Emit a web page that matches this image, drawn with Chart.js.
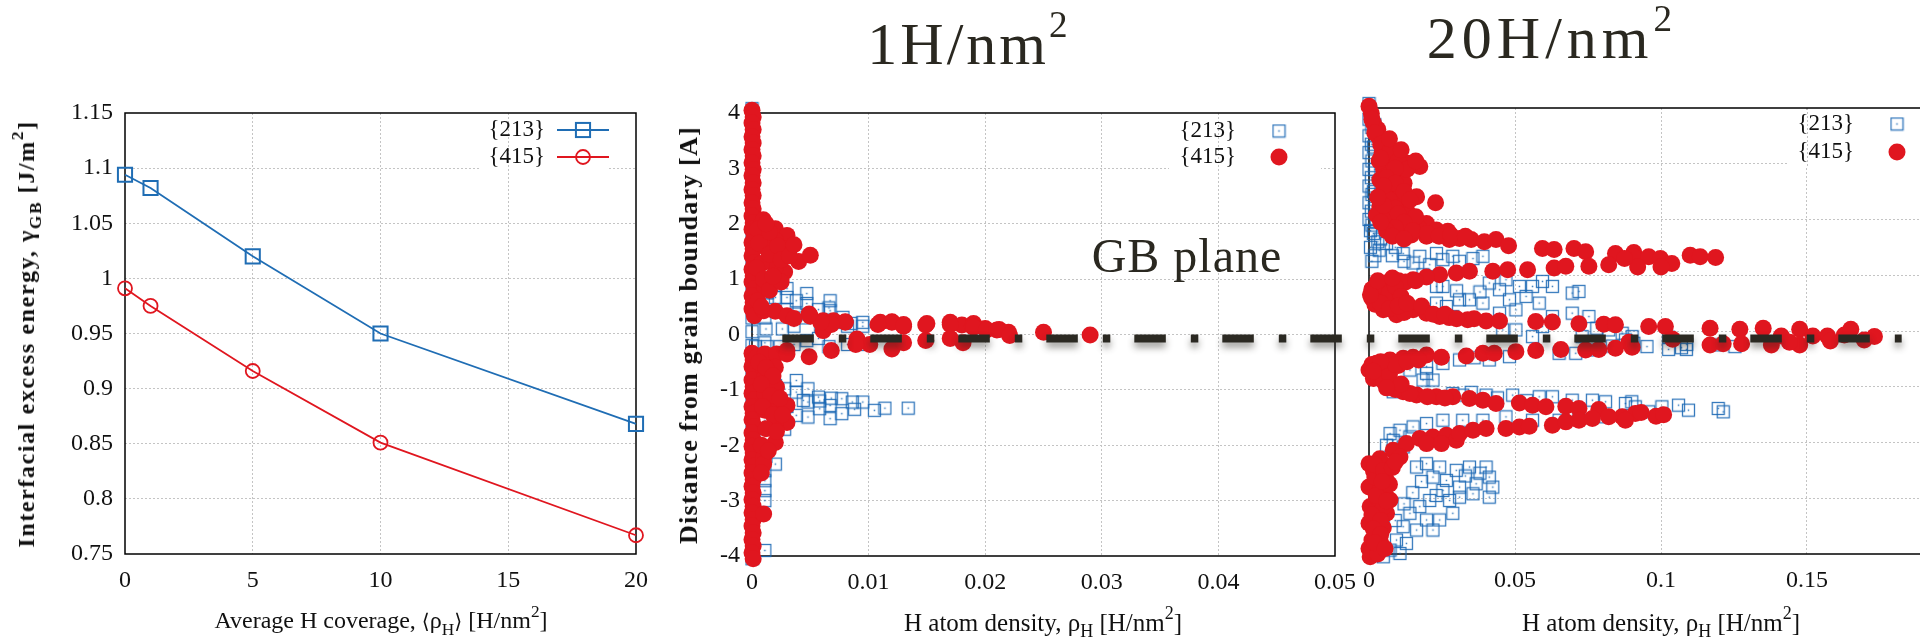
<!DOCTYPE html>
<html>
<head>
<meta charset="utf-8">
<script src="https://cdn.jsdelivr.net/npm/chart.js@4.4.1/dist/chart.umd.min.js"></script>
<style>
  html, body { margin: 0; padding: 0; background: #fff; width: 1920px; height: 640px; overflow: hidden; position: relative; }
  canvas { position: absolute; top: 0; }
  #energy { left: 0; z-index: 1; }
  #high { left: 1340px; z-index: 1; }
  #low { left: 660px; z-index: 2; }
  .txt { position: absolute; z-index: 3; white-space: nowrap; line-height: 1; color: #111;
         font-family: "Liberation Serif", "Times New Roman", serif; transform: translate(-50%, -50%); }
  .txt sub { font-size: 0.72em; vertical-align: -0.38em; line-height: 0; }
  .txt sup { font-size: 0.72em; vertical-align: 0.62em; line-height: 0; }
  .ang { font-family: "DejaVu Serif", serif; font-size: 0.85em; }
  .rot { transform: translate(-50%, -50%) rotate(-90deg); font-weight: bold; }
  .big { color: #2a2820; font-size: 60px; letter-spacing: 3px; }
  .big sup { font-size: 0.62em; vertical-align: 0.72em; }
</style>
</head>
<body>
<canvas id="energy" width="660" height="640"></canvas>
<canvas id="high" width="640" height="640"></canvas>
<canvas id="low" width="1260" height="640"></canvas>

<div class="txt rot" style="left:26px; top:334px; font-size:24px; letter-spacing:1.6px;">Interfacial excess energy, γ<sub>GB</sub> [J/m<sup>2</sup>]</div>
<div class="txt" style="left:381px; top:620px; font-size:24px;">Average H coverage, <span class="ang">⟨</span>ρ<sub>H</sub><span class="ang">⟩</span> [H/nm<sup>2</sup>]</div>
<div class="txt rot" style="left:689px; top:335px; font-size:26px; letter-spacing:1.2px;">Distance from grain boundary [A]</div>
<div class="txt" style="left:1043px; top:622px; font-size:25px;">H atom density, ρ<sub>H</sub> [H/nm<sup>2</sup>]</div>
<div class="txt" style="left:1661px; top:622px; font-size:25px;">H atom density, ρ<sub>H</sub> [H/nm<sup>2</sup>]</div>
<div class="txt big" style="left:969px; top:44px;">1H/nm<sup>2</sup></div>
<div class="txt big" style="left:1552px; top:38px; letter-spacing:5px;">20H/nm<sup>2</sup></div>
<div class="txt" style="left:1187px; top:256px; font-size:48px; letter-spacing:1px; color:#2a2820;">GB plane</div>

<script>
// ---------- grain-boundary energy vs. average coverage ----------
const coverage  = [0, 1, 5, 10, 20];
const gamma213  = [1.094, 1.082, 1.020, 0.950, 0.868];
const gamma415  = [0.991, 0.975, 0.916, 0.851, 0.767];
const coverageTicks = [0, 5, 10, 15, 20];
const coverageLabels = ['0', '5', '10', '15', '20'];
const energyTicks = [0.75, 0.8, 0.85, 0.9, 0.95, 1, 1.05, 1.1, 1.15];
const energyLabels = ['0.75', '0.8', '0.85', '0.9', '0.95', '1', '1.05', '1.1', '1.15'];

// ---------- H density profiles, 1 H/nm^2 : [density, distance] ----------
const low415 = [
  // column at the boundary slab edge
  [0,4.05],[0.0001,3.93],[0,3.82],[0.0001,3.7],[0,3.57],[0.0001,3.46],[0,3.34],[0.0001,3.23],[0,3.1],[0.0001,2.98],
  [0,2.87],[0.0001,2.74],[0,2.62],[0.0001,2.51],[0,2.38],[0.0001,2.27],[0,2.14],[0.0001,2.02],[0,1.9],[0.0002,1.78],
  [0,1.66],[0.0001,1.55],[0,1.42],[0.0002,1.3],[0,1.18],[0.0001,1.06],[0,0.95],[0.0002,0.82],[0,0.7],[0.0001,0.58],
  [0,0.46],[0.0002,0.34],[0,-0.34],[0.0001,-0.46],[0,-0.58],[0.0002,-0.7],[0,-0.82],[0.0001,-0.94],[0,-1.06],[0.0002,-1.18],
  [0,-1.3],[0.0001,-1.42],[0,-1.54],[0.0002,-1.66],[0,-1.78],[0.0001,-1.9],[0,-2.02],[0.0001,-2.14],[0,-2.26],[0.0001,-2.38],
  [0,-2.5],[0.0001,-2.62],[0,-2.74],[0.0001,-2.86],[0,-2.98],[0.0001,-3.1],[0,-3.22],[0.0001,-3.34],[0,-3.46],[0.0001,-3.58],
  [0,-3.7],[0.0001,-3.82],[0,-3.94],[0.0001,-4.05],
  // upper lobe
  [0.00097,2.07],[0.002,1.91],[0.003,1.79],[0.003,1.55],[0.004,1.32],[0.005,1.43],[0.002,1.7],[0.0011,1.58],[0.0028,1.13],[0.002,1.22],
  [0.0008,1.28],[0.0011,0.86],[0.0005,0.61],[0.001,0.43],[0.002,0.42],[0.003,0.34],[0.005,0.33],[0.0061,0.25],[0.007,0.25],[0.008,0.23],
  [0.0061,0.07],[0.009,-0.08],[0.011,0.22],[0.012,0.23],[0.013,0.18],[0.015,0.2],[0.017,0.22],[0.018,0.17],[0.019,0.2],
  [0.0005,1.9],[0.0006,1.65],[0.0004,1.2],[0.001,1.0],[0.0015,0.8],[0.0008,0.5],[0.0015,1.45],[0.0022,1.6],[0.0025,1.35],[0.0015,1.85],
  [0.0032,1.42],[0.0025,0.95],[0.0036,1.62],[0.0012,2.0],[0.0018,1.05],
  // plane layer
  [0.0189,0.15],[0.02,0.11],[0.0212,0.09],[0.022,0.04],[0.025,0.04],[0.029,-0.01],[0.0181,-0.15],[0.0149,0.17],[0.0149,-0.11],[0.017,0.18],
  [0.017,-0.07],[0.012,0.22],[0.012,-0.26],[0.013,0.15],[0.013,-0.15],[0.0108,0.18],[0.0101,-0.18],[0.0089,-0.18],[0.008,0.22],[0.0068,0.18],
  [0.0068,-0.29],[0.0059,0.22],[0.0049,0.37],[0.0049,-0.4],[0.0036,0.29],[0.003,-0.29],[0.0018,-0.44],[0.0009,-0.44],[0.019,0.13],[0.0201,0.08],
  [0.021,0.08],[0.0221,-0.02],
  // lower lobe
  [0.0004,-0.41],[0.0011,-0.35],[0.0021,-0.35],[0.003,-0.35],[0.002,-0.59],[0.0011,-0.77],[0.0011,-1.07],[0.0021,-1.25],[0.003,-1.28],[0.003,-1.59],
  [0.002,-1.57],[0.002,-1.95],[0.001,-2.22],[0.001,-2.34],[0.001,-3.24],[0.0011,-1.37],[0.0021,-0.95],[0.0006,-0.5],[0.0012,-0.6],[0.0018,-0.75],
  [0.0008,-0.9],[0.0016,-1.1],[0.0024,-1.15],[0.0009,-1.3],[0.0018,-1.45],[0.0026,-1.45],[0.0012,-1.7],[0.0021,-1.75],[0.0008,-2.0],[0.0014,-2.1],
  [0.0008,-2.5]
];
const low213 = [
  [0,4.08],[0,3.92],[0,3.75],[0,3.58],[0,3.4],[0,3.2],[0,3.0],[0,2.8],[0,2.55],[0,2.3],[0,2.05],[0,1.8],[0,1.55],[0,1.3],[0,1.05],
  [0,0.8],[0,0.55],[0,0.3],[0,0.05],[0,-0.2],[0,-0.45],[0,-0.7],[0,-0.95],[0,-1.2],[0,-1.45],[0,-1.7],[0,-1.95],[0,-2.2],[0,-2.45],
  [0,-2.7],[0,-2.95],[0,-3.2],[0,-3.45],[0,-3.65],[0,-3.85],[0,-4.05],
  [0.002,0.89],[0.003,0.83],[0.002,0.67],[0.003,0.67],[0.0038,0.61],[0.0047,0.74],[0.0047,0.56],[0.0038,0.37],[0.0067,0.61],[0.0067,0.43],
  [0.0057,0.45],[0.0078,0.31],[0.0095,0.22],[0.0085,0.2],[0.003,0.45],[0.0023,0.98],[0.0066,0.48],[0.0095,0.15],[0.0095,-0.18],[0.0082,-0.18],
  [0.0066,-0.22],[0.0057,-0.07],[0.0047,-0.11],[0.0036,-0.18],[0.0024,-0.22],[0.0013,-0.22],[0.0003,-0.22],[0.0082,0.15],[0.0074,0.22],[0.0059,0.15],
  [0.0036,0.15],[0.0013,0.75],[0.0013,0.55],[0.0045,0.3],[0.0026,0.1],
  [0.002,-0.92],[0.0038,-0.83],[0.0038,-1.04],[0.0048,-0.98],[0.0048,-1.22],[0.0048,-1.49],[0.0057,-1.13],[0.0058,-1.34],[0.0067,-1.28],[0.0067,-1.52],
  [0.0077,-1.16],[0.0077,-1.43],[0.0086,-1.22],[0.0095,-1.22],[0.0105,-1.37],[0.0114,-1.33],[0.0134,-1.33],[0.0028,-0.98],[0.0028,-1.71],[0.0038,-1.46],
  [0.0044,-1.19],[0.0058,-1.2],[0.0068,-1.15],[0.0088,-1.35],[0.003,-1.3],
  [0.0011,0.3],[0.0012,0.1],[0.0011,-0.15],[0.0012,-0.4],[0.0011,-0.6],[0.0012,-0.85],[0.0011,-1.05],[0.0012,-1.3],[0.0011,-1.55],[0.0012,-1.8],
  [0.0011,-2.05],[0.002,-2.34],[0.0011,-2.46],[0.0011,-2.64],[0.0011,-2.82],[0.0011,-3.0],[0.0011,-3.9],[0.0012,-2.2]
];
const densityTicksLow = [0, 0.01, 0.02, 0.03, 0.04, 0.05];
const densityLabelsLow = ['0', '0.01', '0.02', '0.03', '0.04', '0.05'];

// ---------- H density profiles, 20 H/nm^2 ----------
const high415 = [
  [0,4.03],[0.0015,3.73],[0.0032,3.49],[0.0066,3.31],[0.0094,3.13],[0.0134,3.01],[0.0174,2.95],[0.0101,2.77],[0.0037,2.71],[0.0083,2.53],
  [0.0163,2.41],[0.0228,2.3],[0.0037,2.23],[0.0117,2.23],[0.0026,2.08],[0.0083,2.05],[0.014,1.99],[0.0197,1.93],[0.0117,1.88],[0.0231,1.81],
  [0.027,1.79],[0.031,1.66],[0.035,1.64],[0.0395,1.6],[0.0435,1.64],[0.0478,1.53],[0.0594,1.48],[0.0634,1.46],[0.0702,1.48],[0.0742,1.42],
  [0.0844,1.39],[0.0907,1.41],[0.0275,1.64],[0.0197,1.7],
  [0.0008,3.9],[0.003,3.62],[0.0055,3.42],[0.0045,3.2],[0.0075,3.0],[0.005,2.9],[0.012,2.65],[0.0065,2.6],[0.0105,2.4],[0.0055,2.45],
  [0.013,2.15],[0.0075,1.95],[0.017,1.85],[0.0105,1.75],[0.0145,1.72],[0.006,2.02],[0.0035,3.05],[0.008,2.8],
  [0.001,3.8],[0.002,3.55],[0.004,3.35],[0.007,3.2],[0.01,3.05],[0.013,2.9],[0.016,3.05],[0.009,2.92],[0.006,2.75],[0.009,2.65],
  [0.012,2.5],[0.007,2.35],[0.009,2.2],[0.005,2.25],[0.01,2.1],[0.014,2.35],[0.016,2.05],[0.012,1.95],[0.009,1.85],[0.006,1.8],
  [0.015,1.8],[0.02,1.75],[0.024,1.7],[0.028,1.72],[0.033,1.7],[0.004,3.1],[0.007,3.45],[0.011,3.25],[0.005,2.6],[0.003,2.4],
  [0.004,1.95],[0.008,1.7],[0.012,1.65],
  [0.0907,1.33],[0.0958,1.33],[0.0998,1.3],[0.1037,1.21],[0.11,1.36],[0.1134,1.33],[0.1187,1.32],[0.092,1.15],[0.1,1.15],[0.0875,1.3],
  [0.0242,1.01],[0.0299,1.04],[0.0344,1.07],[0.0424,1.07],[0.0475,1.1],[0.0543,1.1],[0.0634,1.13],[0.0674,1.16],[0.0753,1.16],[0.0821,1.19],
  [0.0197,0.97],[0.0151,0.92],[0.0101,0.9],[0.006,0.86],[0.0026,0.8],[0.0009,0.59],[0.0037,0.59],[0.0083,0.56],[0.0049,0.38],[0.0094,0.29],
  [0.0151,0.38],[0.0197,0.32],[0.0242,0.26],[0.0275,0.24],[0.0338,0.2],[0.0401,0.18],[0.0447,0.18],[0.0571,0.17],[0.0628,0.16],[0.0719,0.13],
  [0.0804,0.12],[0.0844,0.11],[0.0015,0.7],[0.004,0.72],[0.002,0.48],[0.006,0.45],[0.012,0.33],[0.0125,0.88],
  [0.001,0.75],[0.003,0.65],[0.005,0.8],[0.007,0.68],[0.009,0.8],[0.011,0.62],[0.004,0.5],[0.007,0.4],[0.01,0.45],[0.013,0.5],
  [0.016,0.9],[0.018,0.45],[0.0005,0.65],[0.003,0.9],[0.008,0.95],[0.022,0.3],[0.026,0.3],[0.03,0.22],[0.036,0.22],
  [0.0958,0.08],[0.1015,0.08],[0.1168,0.05],[0.1168,-0.25],[0.1213,-0.23],[0.127,0.03],[0.1276,-0.23],[0.135,0.05],[0.1378,-0.25],[0.1412,-0.09],
  [0.1475,0.03],[0.1475,-0.25],[0.152,-0.09],[0.157,-0.09],[0.1628,-0.07],[0.165,0.03],[0.1696,-0.16],[0.1731,-0.1],[0.089,-0.2],[0.104,-0.15],
  [0.158,-0.18],[0.144,-0.2],
  [0,-0.7],[0.0026,-0.58],[0.0072,-0.52],[0.0117,-0.49],[0.0151,-0.47],[0.0197,-0.43],[0.0248,-0.47],[0.0333,-0.45],[0.039,-0.4],[0.0429,-0.4],
  [0.0503,-0.37],[0.0571,-0.35],[0.0657,-0.33],[0.0742,-0.34],[0.0787,-0.33],[0.0844,-0.31],[0.0901,-0.29],
  [0.0037,-0.82],[0.0072,-1.0],[0.0117,-1.09],[0.0163,-1.15],[0.0231,-1.18],[0.0287,-1.18],[0.0344,-1.21],[0.039,-1.24],[0.0435,-1.3],[0.0515,-1.29],
  [0.056,-1.33],[0.0606,-1.36],[0.0674,-1.35],[0.0719,-1.39],[0.0787,-1.41],[0.0867,-1.54],[0.0912,-1.48],[0.0983,-1.53],[0.1009,-1.5],[0.0932,-1.46],
  [0.0015,-0.85],[0.005,-0.65],[0.01,-0.62],[0.009,-1.05],[0.014,-1.12],
  [0.001,-0.6],[0.003,-0.75],[0.005,-0.9],[0.007,-0.78],[0.009,-0.6],[0.011,-0.95],[0.004,-0.55],[0.013,-0.55],[0.017,-0.52],[0.02,-1.18],
  [0.026,-1.2],[0.006,-1.02],[0.0015,-0.72],
  [0,-2.38],[0.0037,-2.29],[0.0083,-2.14],[0.0128,-2.02],[0.0174,-1.93],[0.0219,-1.9],[0.0265,-1.87],[0.0299,-1.96],[0.031,-1.84],[0.0356,-1.78],
  [0.0401,-1.75],[0.0469,-1.75],[0.0515,-1.72],[0.0549,-1.71],[0.0628,-1.69],[0.0674,-1.63],[0.0719,-1.6],[0.0765,-1.57],[0.0821,-1.54],[0.0878,-1.6],
  [0.0197,-2.02],[0.0248,-2.02],[0.0106,-2.26],[0.006,-2.68],
  [0,-2.8],[0.0037,-2.86],[0.0072,-3.03],[0.0004,-3.15],[0.006,-3.27],[0,-3.45],[0.0026,-3.63],[0,-3.9],[0.0004,-4.05],[0.0049,-3.53],
  [0.0015,-2.5],[0.003,-3.0],[0.001,-3.75],[0.004,-3.8],[0.005,-3.15],[0.002,-2.62],
  [0.002,-2.4],[0.005,-2.5],[0.008,-2.45],[0.0025,-2.95],[0.006,-3.05],[0.001,-3.3],[0.004,-3.4],[0.0015,-3.55],[0.004,-3.65],[0.001,-3.95],
  [0.003,-4.0],[0.007,-2.75],[0.0045,-2.7],[0.009,-2.35],[0.002,-3.8],[0.0055,-3.9]
];
const high213 = [
  [0,4.08],[0.0005,3.95],[0,3.8],[0.001,3.65],[0,3.5],[0.0008,3.35],[0,3.2],[0.001,3.05],[0,2.9],[0.0008,2.75],
  [0,2.6],[0.001,2.45],[0,2.3],[0.0008,2.15],[0,2.0],[0.001,1.9],[0.0005,1.8],
  [0.002,3.7],[0.0015,3.3],[0.002,2.9],[0.0015,2.5],[0.002,2.2],[0.0025,1.95],[0.003,1.6],[0.002,1.35],[0.0005,1.5],[0.001,1.25],
  [0.0015,1.75],[0.006,1.57],[0.0117,1.39],[0.0174,1.34],[0.0231,1.39],[0.0287,1.34],[0.0356,1.3],[0.039,1.34],[0.0151,1.22],
  [0.0208,1.19],[0.031,1.25],[0.0253,1.28],[0.004,1.65],[0.009,1.5],[0.0035,1.45],[0.008,1.35],[0.012,1.25],
  [0.0231,0.5],[0.0265,0.44],[0.031,0.56],[0.0344,0.56],[0.0412,0.86],[0.0447,0.74],[0.0469,0.92],[0.0515,0.8],[0.056,0.8],[0.0594,0.89],
  [0.0628,0.8],[0.0696,0.68],[0.0719,0.71],[0.0481,0.56],[0.0538,0.62],[0.0503,0.38],[0.0447,0.32],[0.039,0.5],[0.0287,0.26],[0.0583,0.5],
  [0.0231,0.8],[0.0185,1.01],[0.0253,0.8],[0.038,0.7],[0.03,0.72],
  [0.0503,0.02],[0.0594,0.08],[0.0628,0.26],[0.0696,0.32],[0.0753,0.26],[0.0821,0.02],[0.0867,-0.04],[0.0901,-0.1],[0.0458,0.02],[0.056,-0.1],
  [0.0651,-0.4],[0.0708,-0.4],[0.0765,-0.34],[0.0833,-0.27],[0.0878,-0.16],[0.0481,-0.46],[0.0412,-0.52],[0.031,-0.52],[0.0253,-0.58],[0.0197,-0.64],
  [0.0197,-0.76],[0.0219,-0.88],[0.014,-0.7],[0.0185,-0.88],[0.0083,-1.09],[0.0907,-0.22],[0.0952,-0.28],[0.1026,-0.11],[0.1026,-0.33],[0.1088,-0.24],
  [0.1087,-0.33],[0.1196,-0.25],[0.1253,-0.28],[0.107,-0.3],[0.036,-0.48],[0.073,-0.1],[0.078,0.05],
  [0.0287,-1.12],[0.0321,-1.15],[0.0401,-1.15],[0.0492,-1.15],[0.0583,-1.18],[0.0628,-1.18],[0.0696,-1.24],[0.0765,-1.24],[0.081,-1.27],[0.0878,-1.3],
  [0.09,-1.27],[0.0469,-1.54],[0.056,-1.6],[0.0651,-1.6],[0.0719,-1.54],[0.081,-1.54],[0.0912,-1.36],[0.0958,-1.45],[0.1003,-1.36],[0.106,-1.33],
  [0.1094,-1.42],[0.1196,-1.39],[0.1213,-1.45],[0.035,-1.1],[0.044,-1.2],[0.054,-1.25],
  [0.0072,-1.84],[0.0106,-1.78],[0.0151,-1.72],[0.0197,-1.66],[0.0253,-1.6],[0.0321,-1.6],[0.039,-1.6],[0.0083,-1.96],[0.0117,-2.08],[0.014,-1.9],
  [0.006,-2.05],
  [0.0197,-2.38],[0.0242,-2.44],[0.0299,-2.5],[0.0344,-2.44],[0.0401,-2.44],[0.0412,-2.62],[0.0424,-2.8],[0.0412,-2.98],[0.0356,-2.92],[0.031,-2.8],
  [0.0265,-2.68],[0.0219,-2.62],[0.0163,-2.44],[0.0253,-2.86],[0.0208,-3.04],[0.0174,-3.15],[0.014,-3.27],[0.0197,-3.39],[0.0219,-3.57],[0.0163,-3.57],
  [0.0117,-3.51],[0.0094,-3.75],[0.0128,-3.81],[0.0072,-3.93],[0.0106,-3.99],[0.0049,-4.05],[0.0276,-3.04],[0.031,-2.98],[0.0367,-2.74],[0.0287,-3.27],
  [0.0242,-3.39],[0.033,-2.6],[0.038,-2.55],[0.015,-2.9],[0.012,-3.1],[0.009,-3.4],[0.018,-2.7],[0.023,-2.95]
];
const densityTicksHigh = [0, 0.05, 0.1, 0.15, 0.2];
const densityLabelsHigh = ['0', '0.05', '0.1', '0.15', '0.2'];
const distanceTicks = [-4, -3, -2, -1, 0, 1, 2, 3, 4];
const distanceLabels = ['-4', '-3', '-2', '-1', '0', '1', '2', '3', '4'];

// Boundary plane marker: density span and depth (middle-panel units)
const gbPlaneDensity = [0.0026, 0.0986];
const gbPlaneDepth = -0.07;

// ---------- styling ----------
const serif = '"Liberation Serif", "Times New Roman", serif';
const blue = '#1f6db4';
const red = '#e0161f';
const boxBlue = 'rgba(26,104,180,0.88)';
const gridGray = '#c4c4c4';
const gridDash = [2, 2];

const pts = arr => arr.map(([x, y]) => ({ x, y }));
const pairs = (xs, ys) => xs.map((x, i) => ({ x, y: ys[i] }));

// hollow box with a centre dot, used for the {213} scatter marker
function boxMarker(side, color) {
  const c = document.createElement('canvas');
  c.width = side + 2; c.height = side + 2;
  const g = c.getContext('2d');
  g.strokeStyle = color; g.lineWidth = 1.3;
  g.strokeRect(1.5, 1.5, side - 1, side - 1);
  g.fillStyle = color;
  g.fillRect(c.width / 2 - 0.75, c.height / 2 - 0.75, 1.5, 1.5);
  return c;
}

function fixedTicks(values) { return scale => { scale.ticks = values.map(v => ({ value: v })); }; }
function gridColour(c) {
  const s = c.scale, v = c.tick && c.tick.value;
  if (v === undefined || v <= s.min + 1e-9 || v >= s.max - 1e-9) return 'rgba(0,0,0,0)';
  return gridGray;
}
function axis(min, max, ticks, labels, opts) {
  return Object.assign({
    type: 'linear', min, max,
    afterBuildTicks: fixedTicks(ticks),
    ticks: { callback: (v, i) => labels[i], font: { size: 24, family: serif }, color: '#111', padding: 12, autoSkip: false, maxRotation: 0 },
    grid: { color: gridColour, lineWidth: 1, drawTicks: false },
    border: { display: false, dash: gridDash }
  }, opts || {});
}

// frame, key box (it hides horizontal grid lines only) and key entries
const keyPlugin = {
  id: 'insideKey',
  beforeDatasetsDraw(chart, args, o) {
    const { ctx, chartArea: a } = chart;
    ctx.save();
    if (o.box) {
      const x0 = a.right - o.box.left, x1 = a.right - o.box.right;
      const y0 = a.top + o.box.top, y1 = y0 + o.box.height;
      ctx.fillStyle = '#fff';
      ctx.fillRect(x0, y0, x1 - x0, y1 - y0);
      const xs = chart.scales.x;
      ctx.strokeStyle = gridGray; ctx.lineWidth = 1; ctx.setLineDash(gridDash);
      xs.ticks.forEach(t => {
        if (t.value <= xs.min || t.value >= xs.max) return;
        const px = Math.round(xs.getPixelForValue(t.value)) + 0.5;
        if (px < x0 || px > x1) return;
        ctx.beginPath(); ctx.moveTo(px, a.top); ctx.lineTo(px, y1); ctx.stroke();
      });
      ctx.setLineDash([]);
    }
    ctx.strokeStyle = '#000'; ctx.lineWidth = 1.5;
    ctx.strokeRect(a.left, a.top, a.right - a.left, a.bottom - a.top);
    ctx.restore();
  },
  afterDatasetsDraw(chart, args, o) {
    if (!o.entries) return;
    const { ctx, chartArea: a } = chart;
    ctx.save();
    ctx.font = '23px ' + serif;
    ctx.fillStyle = '#111';
    ctx.textAlign = 'right'; ctx.textBaseline = 'middle';
    o.entries.forEach((e, i) => {
      const ds = chart.data.datasets[e.dataset];
      const y = a.top + o.rows[i];
      ctx.fillText(ds.label, a.right - o.textRight, y);
      const mx = a.right - o.markerX;
      if (o.line) {
        ctx.strokeStyle = ds.borderColor; ctx.lineWidth = ds.borderWidth;
        ctx.beginPath(); ctx.moveTo(a.right - o.line[0], y); ctx.lineTo(a.right - o.line[1], y); ctx.stroke();
      }
      const st = ds.pointStyle;
      if (st instanceof HTMLCanvasElement) {
        ctx.drawImage(st, mx - st.width / 2, y - st.height / 2);
      } else if (st === 'rect') {
        const h = ds.pointRadius * Math.SQRT1_2;
        ctx.strokeStyle = ds.pointBorderColor; ctx.lineWidth = ds.pointBorderWidth;
        ctx.strokeRect(mx - h, y - h, 2 * h, 2 * h);
      } else {
        ctx.beginPath(); ctx.arc(mx, y, ds.pointRadius, 0, Math.PI * 2);
        if (ds.pointBorderWidth) { ctx.strokeStyle = ds.pointBorderColor; ctx.lineWidth = ds.pointBorderWidth; ctx.stroke(); }
        else { ctx.fillStyle = ds.pointBackgroundColor; ctx.fill(); }
      }
    });
    ctx.restore();
  }
};

// soft drop shadow under the boundary-plane line
const planeShade = {
  id: 'planeShade',
  beforeDatasetDraw(chart, args) {
    if (chart.data.datasets[args.index].isPlane) {
      const c = chart.ctx; c.save();
      c.shadowColor = 'rgba(40,38,30,0.45)'; c.shadowBlur = 7; c.shadowOffsetY = 5;
    }
  },
  afterDatasetDraw(chart, args) {
    if (chart.data.datasets[args.index].isPlane) chart.ctx.restore();
  }
};

function drawAll() {
  Chart.defaults.font.family = serif;
  Chart.defaults.color = '#111';
  const box213 = boxMarker(13, boxBlue);
  const common = {
    responsive: false, animation: false, devicePixelRatio: 1,
    plugins: { legend: { display: false }, tooltip: { enabled: false } }
  };

  // ---------- left: interfacial energy ----------
  new Chart(document.getElementById('energy'), {
    type: 'scatter',
    data: {
      datasets: [
        { label: '{213}', data: pairs(coverage, gamma213), showLine: true, borderColor: blue, borderWidth: 1.8,
          pointStyle: 'rect', pointRadius: 10, pointBorderColor: blue, pointBorderWidth: 2, pointBackgroundColor: 'rgba(0,0,0,0)', clip: false },
        { label: '{415}', data: pairs(coverage, gamma415), showLine: true, borderColor: red, borderWidth: 1.8,
          pointStyle: 'circle', pointRadius: 7, pointBorderColor: red, pointBorderWidth: 1.8, pointBackgroundColor: 'rgba(0,0,0,0)', clip: false }
      ]
    },
    options: Object.assign({}, common, {
      layout: { padding: { left: 55, right: 21, top: 113, bottom: 46 } },
      scales: {
        x: axis(0, 20, coverageTicks, coverageLabels, { afterFit: s => { s.height = 40; } }),
        y: axis(0.75, 1.15, energyTicks, energyLabels, { afterFit: s => { s.width = 70; } })
      },
      plugins: Object.assign({}, common.plugins, {
        insideKey: { box: { left: 157, right: 27, top: 4, height: 54 },
          entries: [{ dataset: 0 }, { dataset: 1 }], rows: [17, 44], textRight: 91, markerX: 53, line: [79, 27] }
      })
    }),
    plugins: [keyPlugin]
  });

  // ---------- right: 20 H/nm^2 ----------
  const yHigh = axis(-4, 4, distanceTicks, distanceLabels, { afterFit: s => { s.width = 0; } });
  yHigh.ticks.display = false;
  new Chart(document.getElementById('high'), {
    type: 'scatter',
    data: {
      datasets: [
        { label: '{415}', data: pts(high415), pointStyle: 'circle', pointRadius: 8.5, pointBackgroundColor: red,
          pointBorderWidth: 0, clip: false, order: 1 },
        { label: '{213}', data: pts(high213), pointStyle: box213, pointRadius: 7, clip: false, order: 2 }
      ]
    },
    options: Object.assign({}, common, {
      layout: { padding: { left: 29, right: 24, top: 108, bottom: 46 } },
      scales: {
        x: axis(0, 0.2, densityTicksHigh, densityLabelsHigh, { afterFit: s => { s.height = 40; } }),
        y: yHigh
      },
      plugins: Object.assign({}, common.plugins, {
        insideKey: { box: { left: 165, right: -10, top: 2, height: 58 },
          entries: [{ dataset: 1 }, { dataset: 0 }], rows: [16, 44], textRight: 99, markerX: 56 }
      })
    }),
    plugins: [keyPlugin]
  });

  // ---------- middle: 1 H/nm^2 (also carries the boundary-plane marker) ----------
  new Chart(document.getElementById('low'), {
    type: 'scatter',
    data: {
      datasets: [
        { label: 'GB plane', isPlane: true, data: gbPlaneDensity.map(x => ({ x, y: gbPlaneDepth })), showLine: true,
          borderColor: '#2b2922', borderWidth: 8, borderDash: [31.5, 25, 7.5, 24], borderCapStyle: 'butt',
          pointRadius: 0, clip: false, order: 0 },
        { label: '{415}', data: pts(low415), pointStyle: 'circle', pointRadius: 8.5, pointBackgroundColor: red,
          pointBorderWidth: 0, clip: false, order: 1 },
        { label: '{213}', data: pts(low213), pointStyle: box213, pointRadius: 7, clip: false, order: 2 }
      ]
    },
    options: Object.assign({}, common, {
      layout: { padding: { left: 32, right: 585, top: 113, bottom: 44 } },
      scales: {
        x: axis(0, 0.05, densityTicksLow, densityLabelsLow, { afterFit: s => { s.height = 40; } }),
        y: axis(-4, 4, distanceTicks, distanceLabels, { afterFit: s => { s.width = 60; } })
      },
      plugins: Object.assign({}, common.plugins, {
        insideKey: { box: { left: 166, right: 14, top: 4, height: 56 },
          entries: [{ dataset: 2 }, { dataset: 1 }], rows: [18, 44], textRight: 99, markerX: 56 }
      })
    }),
    plugins: [keyPlugin, planeShade]
  });
}

// make sure the serif face is ready before the canvases draw text
Promise.all([
  document.fonts.load('24px "Liberation Serif"'),
  document.fonts.load('23px "Liberation Serif"')
]).then(drawAll, drawAll);
</script>
</body>
</html>
